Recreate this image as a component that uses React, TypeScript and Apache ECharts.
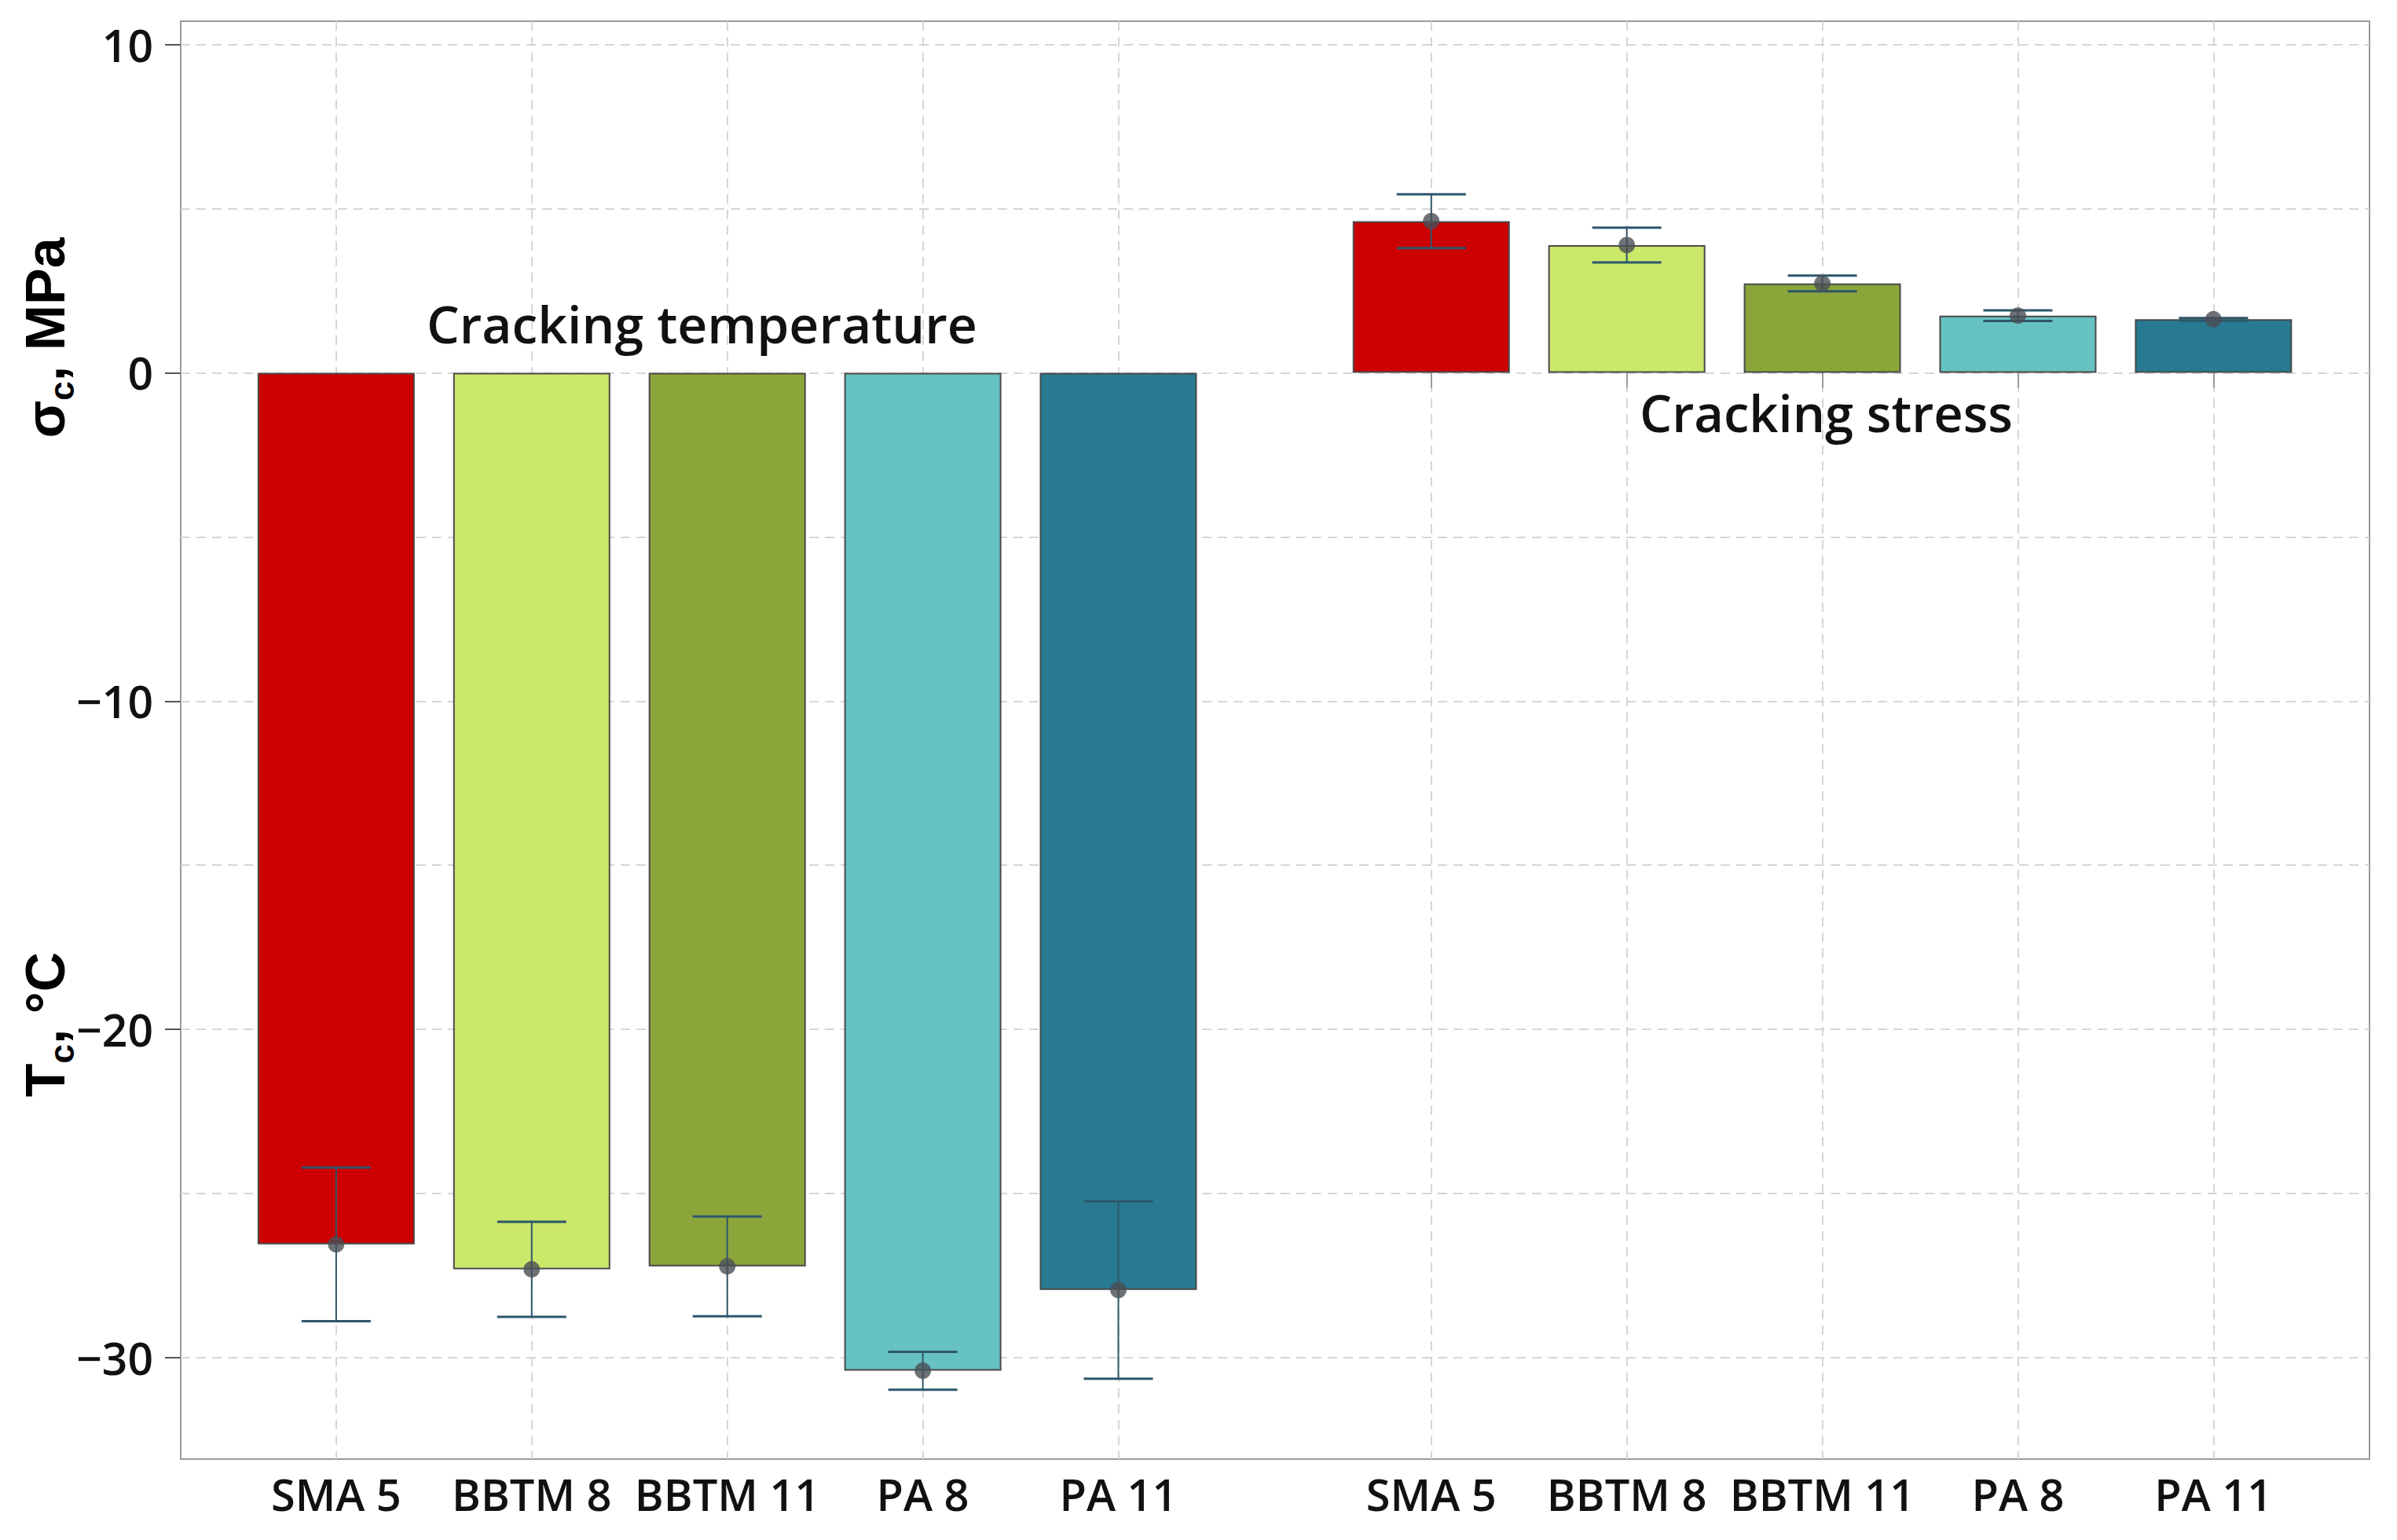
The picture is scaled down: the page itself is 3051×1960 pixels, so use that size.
import React, { useEffect, useRef } from "react";
import * as echarts from "echarts";

// mixes, shown twice: once for cracking temperature, once for cracking stress
const mixes = ["SMA 5", "BBTM 8", "BBTM 11", "PA 8", "PA 11"];
const tempSlots = [1, 2, 3, 4, 5];
const stressSlots = [6.6, 7.6, 8.6, 9.6, 10.6];

// cracking temperature Tc, °C (mean and half error bar)
const tempMean = [-26.55, -27.31, -27.22, -30.4, -27.94];
const tempErr = [2.34, 1.45, 1.52, 0.58, 2.7];

// cracking stress σc, MPa
const stressMean = [4.62, 3.89, 2.72, 1.74, 1.63];
const stressErr = [0.82, 0.53, 0.24, 0.16, 0.04];

const gridTicks = [-30, -25, -20, -15, -10, -5, 0, 5, 10];
const labelTicks = [-30, -20, -10, 0, 10];

const barColors = ["#cc0000", "#cce86b", "#8ba53a", "#66c1c2", "#277a92"];

const Y_MIN = -33.09;
const Y_MAX = 10.71;
const X_MIN = 0.205;
const X_MAX = 11.398;

const ERR_COLOR = "#2d566b";
const DOT_COLOR = "#4a4f55";
const GRID_LINE = { color: "#d6d6d6", width: 2, type: [12, 8] as number[] };

const allSlots = [...tempSlots, ...stressSlots];
const allNames = [...mixes, ...mixes];

function nameAt(v: number) {
  const i = allSlots.findIndex((s) => Math.abs(s - v) < 1e-6);
  return i >= 0 ? allNames[i] : "";
}

function fmtY(v: number) {
  return v < 0 ? "\u2212" + Math.abs(v) : String(v);
}

export default function App() {
  const ref = useRef<HTMLDivElement>(null);

  useEffect(() => {
    document.body.style.margin = "0";
    if (!ref.current) return;
    const chart = echarts.init(ref.current, null, { renderer: "svg" });

    const barData = (slots: number[], vals: number[]) =>
      slots.map((x, i) => ({ value: [x, vals[i]], itemStyle: { color: barColors[i] } }));

    const errData = [
      ...tempSlots.map((x, i) => [x, tempMean[i] - tempErr[i], tempMean[i] + tempErr[i]]),
      ...stressSlots.map((x, i) => [x, stressMean[i] - stressErr[i], stressMean[i] + stressErr[i]]),
    ];

    const dotData = [
      ...tempSlots.map((x, i) => [x, tempMean[i]]),
      ...stressSlots.map((x, i) => [x, stressMean[i]]),
    ];

    const barStyle = { borderColor: "#4a4a4a", borderWidth: 2 };

    const option: any = {
      animation: false,
      backgroundColor: "#ffffff",
      grid: {
        left: 230,
        right: 35,
        top: 27,
        bottom: 103,
        show: true,
        borderColor: "#9a9a9a",
        borderWidth: 2,
        backgroundColor: "#ffffff",
      },
      xAxis: {
        type: "value",
        min: X_MIN,
        max: X_MAX,
        axisLine: { show: false },
        axisTick: {
          show: true,
          customValues: allSlots,
          length: 19,
          lineStyle: { color: "#9a9a9a", width: 2 },
        },
        axisLabel: {
          customValues: allSlots,
          formatter: (v: number) => nameAt(v),
          fontFamily: "Open Sans",
          fontWeight: 600,
          fontSize: 56,
          color: "#111111",
          margin: 16,
        },
        splitLine: { show: true, lineStyle: GRID_LINE },
      },
      yAxis: [
        {
          type: "value",
          min: Y_MIN,
          max: Y_MAX,
          axisLine: { show: false },
          axisTick: { show: false, customValues: gridTicks },
          axisLabel: { show: false },
          splitLine: { show: true, lineStyle: GRID_LINE },
        },
        {
          type: "value",
          position: "left",
          min: Y_MIN,
          max: Y_MAX,
          axisLine: { show: false },
          axisTick: {
            show: true,
            customValues: labelTicks,
            length: 20,
            lineStyle: { color: "#555555", width: 2 },
          },
          axisLabel: {
            customValues: labelTicks,
            formatter: (v: number) => fmtY(v),
            fontFamily: "Open Sans",
            fontWeight: 600,
            fontSize: 57,
            color: "#111111",
            margin: 35,
          },
          splitLine: { show: false },
        },
      ],
      series: [
        {
          name: "Cracking temperature",
          type: "bar",
          yAxisIndex: 0,
          barWidth: 200,
          barGap: "-100%",
          z: 2,
          itemStyle: barStyle,
          data: barData(tempSlots, tempMean),
        },
        {
          name: "Cracking stress",
          type: "bar",
          yAxisIndex: 0,
          barWidth: 200,
          barGap: "-100%",
          z: 2,
          itemStyle: barStyle,
          data: barData(stressSlots, stressMean),
        },
        {
          name: "error",
          type: "custom",
          yAxisIndex: 0,
          z: 3,
          encode: { x: 0, y: [1, 2] },
          data: errData,
          renderItem: (_params: any, api: any) => {
            const x = api.value(0);
            const lo = api.coord([x, api.value(1)]);
            const hi = api.coord([x, api.value(2)]);
            const half = 44;
            return {
              type: "group",
              children: [
                {
                  type: "line",
                  shape: { x1: lo[0], y1: lo[1], x2: hi[0], y2: hi[1] },
                  style: { stroke: ERR_COLOR, lineWidth: 2 },
                },
                {
                  type: "line",
                  shape: { x1: lo[0] - half, y1: lo[1], x2: lo[0] + half, y2: lo[1] },
                  style: { stroke: ERR_COLOR, lineWidth: 3 },
                },
                {
                  type: "line",
                  shape: { x1: hi[0] - half, y1: hi[1], x2: hi[0] + half, y2: hi[1] },
                  style: { stroke: ERR_COLOR, lineWidth: 3 },
                },
              ],
            };
          },
        },
        {
          name: "mean",
          type: "scatter",
          yAxisIndex: 0,
          z: 4,
          symbol: "circle",
          symbolSize: 21,
          itemStyle: { color: DOT_COLOR },
          data: dotData,
        },
      ],
    };

    chart.setOption(option);

    // annotations anchored in data space
    const tPos = chart.convertToPixel({ xAxisIndex: 0, yAxisIndex: 0 }, [2.87, 1.52]) as number[];
    const sPos = chart.convertToPixel({ xAxisIndex: 0, yAxisIndex: 0 }, [8.62, -1.22]) as number[];

    const axisTitleRich = {
      m: { fontFamily: "Liberation Sans", fontWeight: "bold", fontSize: 70, lineHeight: 84, fill: "#000" },
      s: { fontFamily: "Liberation Sans", fontWeight: "bold", fontSize: 44, lineHeight: 52, verticalAlign: "bottom", fill: "#000" },
    };

    const noteStyle = {
      fontFamily: "Open Sans",
      fontWeight: 600,
      fontSize: 66,
      fill: "#111111",
      textAlign: "center",
      textVerticalAlign: "middle",
    };

    chart.setOption({
      graphic: [
        {
          type: "text",
          x: tPos[0],
          y: tPos[1],
          style: { ...noteStyle, text: "Cracking temperature" },
          z: 10,
        },
        {
          type: "text",
          x: sPos[0],
          y: sPos[1],
          style: { ...noteStyle, fontSize: 65, text: "Cracking stress" },
          z: 10,
        },
        {
          type: "text",
          x: 58,
          y: 430,
          rotation: Math.PI / 2,
          style: {
            text: "{m|\u03c3}{s|c}{m|, MPa}",
            rich: axisTitleRich,
            textAlign: "center",
            textVerticalAlign: "middle",
          },
        },
        {
          type: "text",
          x: 58,
          y: 1304,
          rotation: Math.PI / 2,
          style: {
            text: "{m|T}{s|c}{m|, \u00b0C}",
            rich: axisTitleRich,
            textAlign: "center",
            textVerticalAlign: "middle",
          },
        },
      ],
    });

    return () => {
      chart.dispose();
    };
  }, []);

  return <div ref={ref} style={{ width: 3051, height: 1960 }} />;
}
